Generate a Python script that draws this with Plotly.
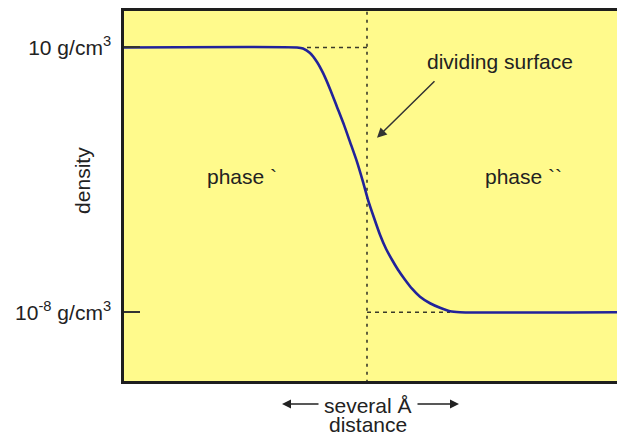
import plotly.graph_objects as go

# distance (arbitrary units, 0 = dividing surface) and log10(density)
distance = [-24.4, -7.0, -6.4, -5.7, -5.0, -4.4, -3.7, -3.0, -2.3, -1.7, -1.0, -0.4, 0.1, 0.7,
            1.3, 1.9, 2.5, 3.1, 3.8, 4.5, 5.3, 6.3, 7.3, 8.3, 9.3, 26.0]
log_density = [1.0, 1.0, 0.966, 0.813, 0.507, 0.134, -0.41, -1.021, -1.632, -2.21, -2.889, -3.569,
               -4.18, -4.791, -5.369, -5.845, -6.218, -6.558, -6.897, -7.202, -7.475, -7.696,
               -7.849, -7.967, -8.0, -8.0]

tick_vals = [1, -8]
tick_text = ["10 g/cm<sup>3</sup>", "10<sup>-8</sup> g/cm<sup>3</sup>"]
dividing_x = 0.0
upper_level = 1.0
lower_level = -8.0

FONT = "Liberation Sans, Arial, sans-serif"
TXT = "#222222"
FS = 21

fig = go.Figure()

# guide dashed lines
fig.add_trace(go.Scatter(x=[-6.0, dividing_x], y=[upper_level, upper_level], mode="lines",
                         line=dict(color="#3a3a2a", width=1.6, dash="4px,4px"), hoverinfo="skip"))
fig.add_trace(go.Scatter(x=[dividing_x, 8.3], y=[lower_level, lower_level], mode="lines",
                         line=dict(color="#3a3a2a", width=1.6, dash="4px,4px"), hoverinfo="skip"))
fig.add_trace(go.Scatter(x=[dividing_x, dividing_x], y=[-10.4, 2.3], mode="lines",
                         line=dict(color="#3a3a2a", width=1.6, dash="3px,5px"), hoverinfo="skip"))

fig.add_trace(go.Scatter(x=distance, y=log_density, mode="lines",
                         line=dict(color="#22229a", width=2.6, shape="spline", smoothing=0.6),
                         hoverinfo="skip"))

fig.update_layout(
    width=617, height=435,
    margin=dict(l=124, r=0, t=11, b=54),
    paper_bgcolor="white",
    plot_bgcolor="#FFFA8C",
    showlegend=False,
    font=dict(family=FONT, size=FS, color=TXT),
    xaxis=dict(range=[-24.3, 25.0], showgrid=False, zeroline=False, showticklabels=False,
               showline=True, mirror=True, linecolor="#1e1e1e", linewidth=2.5, ticks=""),
    yaxis=dict(range=[-10.34, 2.24], showgrid=False, zeroline=False,
               tickvals=tick_vals, ticktext=tick_text, ticks="inside", ticklen=16,
               tickwidth=1.5, tickcolor="#333333", ticklabelstandoff=6,
               tickfont=dict(family=FONT, size=FS, color=TXT),
               showline=True, linecolor="#1e1e1e", linewidth=2.5),
)

annotations = [
    dict(text="density", xref="paper", yref="paper", x=-0.083, y=0.541, textangle=-90,
         xanchor="center", yanchor="middle", showarrow=False, font=dict(size=FS)),
    dict(text="phase `", xref="x", yref="y", x=-12.5, y=-3.4, showarrow=False, font=dict(size=FS)),
    dict(text="phase ``", xref="x", yref="y", x=15.6, y=-3.4, showarrow=False, font=dict(size=FS)),
    dict(text="dividing surface", xref="x", yref="y", x=13.3, y=0.51, showarrow=False, font=dict(size=FS)),
    dict(text="", xref="x", yref="y", x=1.0, y=-2.07, ax=59, ay=-58, showarrow=True,
         arrowhead=2, arrowsize=1.3, arrowwidth=1.5, arrowcolor="#333333"),
    dict(text="several Å", xref="paper", yref="paper", x=0.495, y=-0.0649, showarrow=False,
         xanchor="center", font=dict(size=FS), yanchor="middle"),
    dict(text="distance", xref="paper", yref="paper", x=0.495, y=-0.1189, showarrow=False,
         xanchor="center", font=dict(size=FS), yanchor="middle"),
    dict(text="", xref="paper", yref="paper", x=(282 - 124) / 493, y=-0.0622,
         ax=38, ay=0, showarrow=True,
         arrowhead=2, arrowsize=1.2, arrowwidth=1.5, arrowcolor="#222222"),
    dict(text="", xref="paper", yref="paper", x=(459 - 124) / 493, y=-0.0622,
         ax=-43, ay=0, showarrow=True,
         arrowhead=2, arrowsize=1.2, arrowwidth=1.5, arrowcolor="#222222"),
]
fig.update_layout(annotations=annotations)

fig.write_html("out.html", config={"displayModeBar": False},
               post_script="document.body.style.margin='0';document.body.style.overflow='hidden';")
